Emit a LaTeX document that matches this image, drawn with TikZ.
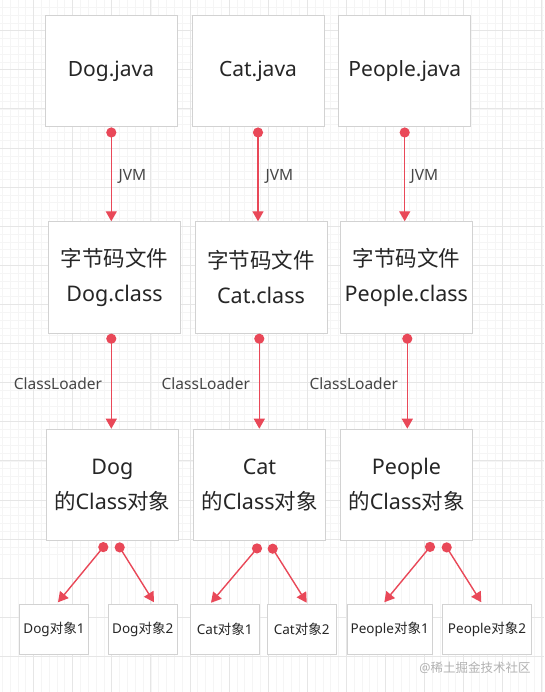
\documentclass[tikz,border=0pt]{standalone}
\usepackage{fontspec}
\setmainfont{Noto Sans}
\newfontfamily\cjk{Noto Sans CJK SC}
\usetikzlibrary{arrows.meta,calc}
\definecolor{arrowred}{RGB}{233,72,88}
\definecolor{boxline}{RGB}{210,210,210}
\definecolor{txt}{RGB}{38,38,38}
\definecolor{lbltxt}{RGB}{70,70,70}
\definecolor{gridminor}{RGB}{245,245,245}
\definecolor{gridmajor}{RGB}{230,230,230}
\definecolor{wmark}{RGB}{178,178,178}
\begin{document}
\begin{tikzpicture}[x=1pt,y=-1pt,
  box/.style={draw=boxline,line width=0.9pt,fill=white,text=txt,align=center,inner sep=0pt},
  bigbox/.style={box,minimum width=132pt,minimum height=111.5pt,font=\fontsize{21.5}{35}\selectfont},
  smallbox/.style={box,minimum height=49.6pt,font=\fontsize{13.5}{16}\selectfont},
  conn/.style={draw=arrowred,line width=1.4pt,-{Triangle[width=11pt,length=10pt]}},
  dotc/.style={fill=arrowred},
  lbl/.style={text=lbltxt,font=\fontsize{15.5}{18}\selectfont,inner sep=0pt}
]
\useasboundingbox (0,0) rectangle (544,692);
\fill[white] (0,0) rectangle (544,692);
% grid
\begin{scope}
\clip (0,0) rectangle (544,692);
\foreach \i in {0,...,72} {
  \draw[gridminor,line width=0.6pt] ({-5.6+7.82*\i},0) -- ({-5.6+7.82*\i},692);
  \draw[gridminor,line width=0.6pt] (0,{-8.4+7.82*\i}) -- (544,{-8.4+7.82*\i});
}
\foreach \i in {0,...,18} {
  \draw[gridmajor,line width=0.8pt] ({-5.6+39.1*\i},0) -- ({-5.6+39.1*\i},692);
  \draw[gridmajor,line width=0.8pt] (0,{-8.4+39.1*\i}) -- (544,{-8.4+39.1*\i});
}
\end{scope}

% row 1
\node[bigbox,font=\fontsize{21}{25}\selectfont] (dogjava) at (111,71) {Dog.java};
\node[bigbox,font=\fontsize{21}{25}\selectfont] (catjava) at (258,71) {Cat.java};
\node[bigbox,font=\fontsize{21}{25}\selectfont] (peojava) at (404.8,71) {People.java};

% row 2
\node[bigbox,minimum width=131.6pt] (dogclass) at (114.5,277.5) {{\cjk 字节码文件}\\Dog.class};
\node[bigbox] (catclass) at (261,277.5) {{\cjk 字节码文件}\\Cat.class};
\node[bigbox] (peoclass) at (406.3,277.5) {{\cjk 字节码文件}\\People.class};

% row 3
\node[bigbox] (dogobj) at (112.3,484.9) {Dog\\{\cjk 的}Class{\cjk 对象}};
\node[bigbox] (catobj) at (259.5,484.9) {Cat\\{\cjk 的}Class{\cjk 对象}};
\node[bigbox,minimum width=131.6pt] (peoobj) at (406.5,484.9) {People\\{\cjk 的}Class{\cjk 对象}};

% row 4
\node[smallbox,minimum width=68.6pt] (dogo1) at (54,629.5) {Dog{\cjk 对象}1};
\node[smallbox,minimum width=68.7pt] (dogo2) at (142.7,629.5) {Dog{\cjk 对象}2};
\node[smallbox,minimum width=69pt] (cato1) at (224.8,629.5) {Cat{\cjk 对象}1};
\node[smallbox,minimum width=69pt] (cato2) at (301.7,629.5) {Cat{\cjk 对象}2};
\node[smallbox,minimum width=84.7pt] (peoo1) at (389.7,629.5) {People{\cjk 对象}1};
\node[smallbox,minimum width=88.6pt] (peoo2) at (487,629.5) {People{\cjk 对象}2};

% dot coordinates
\coordinate (j1) at ($(dogjava.south)+(0.3,5.3)$);
\coordinate (j2) at ($(catjava.south)+(0,5.3)$);
\coordinate (j3) at ($(peojava.south)+(-0.1,5.3)$);
\coordinate (c1) at ($(dogclass.south)+(-3.2,5)$);
\coordinate (c2) at ($(catclass.south)+(-1.7,5)$);
\coordinate (c3) at ($(peoclass.south)+(1,5)$);
\coordinate (o1) at ($(dogobj.south)+(-9,6)$);
\coordinate (o2) at ($(dogobj.south)+(7.4,6.3)$);
\coordinate (o3) at ($(catobj.south)+(-2.5,7.3)$);
\coordinate (o4) at ($(catobj.south)+(13.2,7.6)$);
\coordinate (o5) at ($(peoobj.south)+(23.5,5.8)$);
\coordinate (o6) at ($(peoobj.south)+(40.2,6.3)$);

% connectors
\draw[conn] (j1) -- (j1 |- dogclass.north);
\draw[conn] (j2) -- (j2 |- catclass.north);
\draw[conn] (j3) -- (j3 |- peoclass.north);
\draw[conn] (c1) -- (c1 |- dogobj.north);
\draw[conn] (c2) -- (c2 |- catobj.north);
\draw[conn] (c3) -- (c3 |- peoobj.north);
\draw[conn] (o1) -- ($(dogo1.north)+(4,-2)$);
\draw[conn] (o2) -- ($(dogo2.north)+(11.3,-2)$);
\draw[conn] (o3) -- ($(cato1.north)+(-13.8,-1.5)$);
\draw[conn] (o4) -- ($(cato2.north)+(5,-1.5)$);
\draw[conn] (o5) -- ($(peoo1.north)+(-5.4,-2)$);
\draw[conn] (o6) -- ($(peoo2.north)+(-5.7,-2)$);

\foreach \c in {j1,j2,j3,c1,c2,c3,o1,o2,o3,o4,o5,o6} {
  \fill[dotc] (\c) circle (5.1);
}

% labels
\node[lbl] (l1) at (132.5,176) {JVM};
\node[lbl] (l2) at (279.5,176) {JVM};
\node[lbl] (l3) at (424.4,176) {JVM};
\node[lbl] (l4) at (58,384) {ClassLoader};
\node[lbl] (l5) at (205.8,384) {ClassLoader};
\node[lbl] (l6) at (353.8,384) {ClassLoader};

% watermark
\node[text=wmark,font=\fontsize{12.5}{14}\selectfont,inner sep=0pt] (wm) at (475,667.7) {@{\cjk 稀土掘金技术社区}};
\end{tikzpicture}
\end{document}
